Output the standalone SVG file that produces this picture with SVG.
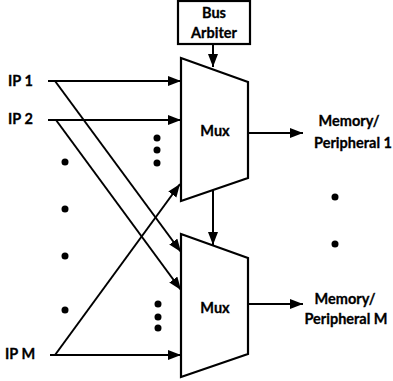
<svg xmlns="http://www.w3.org/2000/svg" width="393" height="381" viewBox="0 0 393 381">
<style>
.ln{stroke:#000;stroke-width:2;fill:none}
.sh{stroke:#000;stroke-width:2.2;fill:#fff;stroke-linejoin:miter}
.t{font-family:Lato,"Open Sans","Liberation Sans",sans-serif;font-weight:bold;font-size:14.5px;fill:#000;stroke:#000;stroke-width:0.3}
.dot{fill:#000}
</style>
<defs>
<marker id="ah" markerUnits="userSpaceOnUse" markerWidth="14" markerHeight="11" refX="13" refY="5" orient="auto">
<path d="M0,0 L13,5 L0,10 Z" fill="#000"/>
</marker>
</defs>
<rect width="393" height="381" fill="#fff"/>
<g id="connectors">
<line class="ln" x1="213" y1="44" x2="213" y2="67" marker-end="url(#ah)"/>
<line class="ln" x1="213" y1="190" x2="213" y2="245" marker-end="url(#ah)"/>
<line class="ln" x1="248" y1="133" x2="303" y2="133" marker-end="url(#ah)"/>
<line class="ln" x1="248" y1="304" x2="303" y2="304" marker-end="url(#ah)"/>
<line class="ln" x1="48" y1="81" x2="181" y2="81" marker-end="url(#ah)"/>
<line class="ln" x1="55" y1="81" x2="181" y2="252" marker-end="url(#ah)"/>
<line class="ln" x1="48" y1="120" x2="181" y2="120" marker-end="url(#ah)"/>
<line class="ln" x1="56" y1="120" x2="181" y2="290" marker-end="url(#ah)"/>
<line class="ln" x1="50" y1="355" x2="181" y2="355" marker-end="url(#ah)"/>
<line class="ln" x1="55" y1="355" x2="180" y2="184" marker-end="url(#ah)"/>
</g>
<g id="arbiter">
<rect class="sh" x="178" y="1" width="72" height="43"/>
<text class="t" x="214" y="18" text-anchor="middle">Bus</text>
<text class="t" x="214" y="38" text-anchor="middle">Arbiter</text>
</g>
<g id="mux1">
<polygon class="sh" points="181,58 248,82 248,178 181,201"/>
<text class="t" x="215" y="136" text-anchor="middle">Mux</text>
</g>
<g id="mux2">
<polygon class="sh" points="181,234 248,258 248,354 181,377"/>
<text class="t" x="215" y="313" text-anchor="middle">Mux</text>
</g>
<g id="ip1"><text class="t" x="8" y="86">IP 1</text></g>
<g id="ip2"><text class="t" x="8" y="124">IP 2</text></g>
<g id="ipm"><text class="t" x="5" y="359">IP M</text></g>
<g id="mem1">
<text class="t" x="349" y="126" text-anchor="middle">Memory/</text>
<text class="t" x="353" y="148" text-anchor="middle">Peripheral 1</text>
</g>
<g id="memM">
<text class="t" x="345" y="304" text-anchor="middle">Memory/</text>
<text class="t" x="346" y="324" text-anchor="middle">Peripheral M</text>
</g>
<g id="dots">
<circle class="dot" cx="65" cy="162" r="3.5"/>
<circle class="dot" cx="65" cy="209" r="3.5"/>
<circle class="dot" cx="65" cy="256" r="3.5"/>
<circle class="dot" cx="65" cy="310" r="3.5"/>
<circle class="dot" cx="335" cy="197" r="3.5"/>
<circle class="dot" cx="335" cy="244" r="3.5"/>
<circle class="dot" cx="157" cy="138" r="3.5"/>
<circle class="dot" cx="157" cy="150" r="3.5"/>
<circle class="dot" cx="157" cy="163" r="3.5"/>
<circle class="dot" cx="158" cy="304" r="3.5"/>
<circle class="dot" cx="158" cy="317" r="3.5"/>
<circle class="dot" cx="158" cy="328" r="3.5"/>
</g>
</svg>
